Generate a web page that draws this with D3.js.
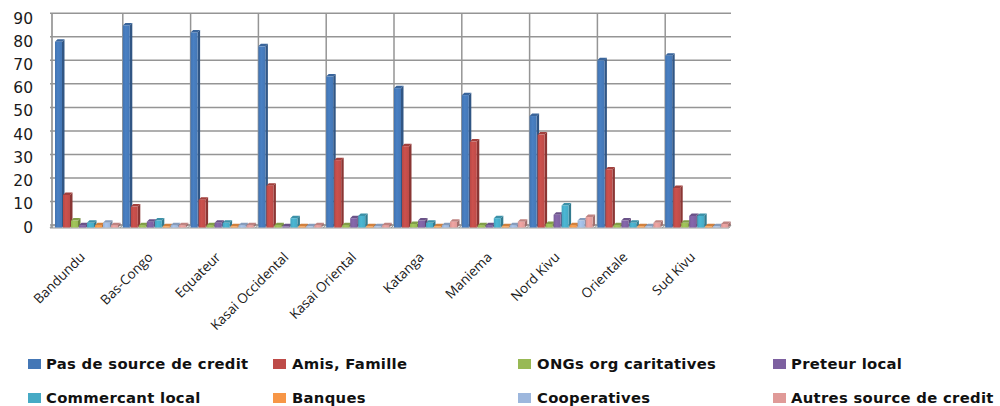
<!DOCTYPE html>
<html>
<head>
<meta charset="utf-8">
<script src="https://cdn.jsdelivr.net/npm/d3@7/dist/d3.min.js"></script>
<style>
  html, body { margin: 0; padding: 0; background: #fff; }
  svg { display: block; }
</style>
</head>
<body>
<script>
// Provinces (categories on the x axis)
const categories = ["Bandundu", "Bas-Congo", "Equateur", "Kasai Occidental", "Kasai Oriental",
                    "Katanga", "Maniema", "Nord Kivu", "Orientale", "Sud Kivu"];

// Credit sources (series)
const seriesNames = ["Pas de source de credit", "Amis, Famille", "ONGs org caritatives", "Preteur local",
                     "Commercant local", "Banques", "Cooperatives", "Autres source de credit"];

// Percentages per province, one array per source
const pasDeSource = [80, 87, 84, 78, 65, 60, 57, 48, 72, 74];
const amisFamille = [14, 9, 12, 18, 29, 35, 37, 40, 25, 17];
const ongs        = [3, 1, 1, 1, 1, 1.5, 1, 1.5, 1, 2];
const preteur     = [1, 2.5, 2, 0.5, 4, 3, 1, 5.5, 3, 5];
const commercant  = [2, 3, 2, 4, 5, 2, 4, 9.5, 2, 5];
const banques     = [1, 0.5, 0.5, 0.5, 0.5, 0.5, 0.5, 1, 0.5, 0.5];
const cooperatives= [2, 1, 1, 0.5, 0.5, 1, 1, 3, 0.5, 0.5];
const autres      = [1, 1, 1, 1, 1, 2.5, 2.5, 4.5, 2, 1.5];

// Value axis ticks
const yTicks = [0, 10, 20, 30, 40, 50, 60, 70, 80, 90];

const seriesColors = ["#4477B6", "#BE4B48", "#98B954", "#7D60A0", "#46AAC5", "#F79646", "#9DB7DD", "#E09A98"];

const seriesValues = [pasDeSource, amisFamille, ongs, preteur, commercant, banques, cooperatives, autres];
const series = seriesNames.map((name, i) => ({ name, values: seriesValues[i], color: seriesColors[i] }));

const W = 1000, H = 406;
const svg = d3.select("body").append("svg").attr("width", W).attr("height", H);
svg.append("rect").attr("width", W).attr("height", H).attr("fill", "#fff");

// Scales: front plane for the bars, back wall for the gridlines
const x0 = d3.scaleBand().domain(categories).range([55, 733]);
const x1 = d3.scaleBand().domain(seriesNames).range([0, 64]);
const yFront = d3.scaleLinear().domain([0, 90]).range([227.5, 18.5]);
const yBack = d3.scaleLinear().domain([0, 90]).range([225, 13.3]);

const wallLeft = 52, wallRight = 731;
const gridColor = "#959595";

// Floor strip
svg.append("polygon")
  .attr("points", [[wallLeft - 2, yFront(0) + 0.5], [wallRight - 2, yFront(0) + 0.5],
                   [wallRight, yBack(0)], [wallLeft, yBack(0)]].map(p => p.join(",")).join(" "))
  .attr("fill", "#e6e6e6").attr("stroke", gridColor).attr("stroke-width", 1);

// Horizontal gridlines on the back wall
svg.append("g").selectAll("line").data(yTicks).join("line")
  .attr("x1", wallLeft - 2).attr("x2", wallRight)
  .attr("y1", d => yBack(d)).attr("y2", d => yBack(d))
  .attr("stroke", gridColor).attr("stroke-width", 1.5);

// Vertical gridlines between categories
svg.append("g").selectAll("line").data(categories.slice(1)).join("line")
  .attr("x1", d => x0(d)).attr("x2", d => x0(d))
  .attr("y1", yBack(90)).attr("y2", yBack(0))
  .attr("stroke", gridColor).attr("stroke-width", 1.5);

// Floor ticks at category boundaries
svg.append("g").selectAll("line").data(categories.slice(1)).join("line")
  .attr("x1", d => x0(d) - 3).attr("x2", d => x0(d))
  .attr("y1", yFront(0) + 0.5).attr("y2", yBack(0))
  .attr("stroke", gridColor).attr("stroke-width", 1);

// Left wall / value axis line
svg.append("line")
  .attr("x1", wallLeft).attr("x2", wallLeft)
  .attr("y1", yBack(90)).attr("y2", yFront(0) + 0.5)
  .attr("stroke", gridColor).attr("stroke-width", 1.7);

// Gradients for the bar fronts
const defs = svg.append("defs");
series.forEach((s, i) => {
  const g = defs.append("linearGradient").attr("id", "grad" + i)
    .attr("x1", "0%").attr("x2", "100%").attr("y1", "0%").attr("y2", "0%");
  const c = d3.color(s.color);
  g.append("stop").attr("offset", "0%").attr("stop-color", c.darker(0.1).formatHex());
  g.append("stop").attr("offset", "40%").attr("stop-color", c.brighter(0.2).formatHex());
  g.append("stop").attr("offset", "100%").attr("stop-color", c.formatHex());
});

// 3D columns
const barW = 7, depth = 2.5;
const groups = svg.append("g").selectAll("g").data(categories).join("g")
  .attr("transform", d => `translate(${x0(d)},0)`);

groups.each(function (cat, ci) {
  const g = d3.select(this);
  series.forEach((s, si) => {
    const v = s.values[ci];
    const x = x1(s.name);
    const yt = yFront(v), yb = yFront(0);
    const c = d3.color(s.color);
    // side face
    g.append("polygon")
      .attr("points", [[x + barW, yt], [x + barW + depth, yt - depth], [x + barW + depth, yb - depth], [x + barW, yb]]
        .map(p => p.join(",")).join(" "))
      .attr("fill", c.darker(0.9).formatHex());
    // top face
    g.append("polygon")
      .attr("points", [[x, yt], [x + depth, yt - depth], [x + barW + depth, yt - depth], [x + barW, yt]]
        .map(p => p.join(",")).join(" "))
      .attr("fill", c.darker(0.45).formatHex());
    // front face
    g.append("rect")
      .attr("x", x).attr("y", yt).attr("width", barW).attr("height", yb - yt)
      .attr("fill", `url(#grad${si})`);
  });
});

// Value axis labels
svg.append("g").selectAll("text").data(yTicks).join("text")
  .attr("x", 33).attr("y", d => yFront(d))
  .attr("text-anchor", "end").attr("dominant-baseline", "central")
  .attr("font-family", "DejaVu Sans, sans-serif").attr("font-size", 15.5)
  .attr("fill", "#1a1a1a")
  .text(d => d);

// Category labels, rotated
svg.append("g").selectAll("text").data(categories).join("text")
  .attr("transform", d => `translate(${x0(d) + x0.bandwidth() / 2 - 3},258) rotate(-45)`)
  .attr("text-anchor", "end")
  .attr("font-family", "Open Sans, sans-serif").attr("font-size", 13.5)
  .attr("fill", "#1a1a1a")
  .text(d => d);

// Legend: two rows of four
const legendCols = [[28, 46], [273, 292], [518, 537], [773, 791]];
const legendRows = [369, 403];
const legend = svg.append("g").selectAll("g").data(series).join("g")
  .attr("transform", (d, i) => `translate(0,${legendRows[Math.floor(i / 4)]})`);
legend.append("rect")
  .attr("x", (d, i) => legendCols[i % 4][0]).attr("y", -10)
  .attr("width", 13).attr("height", 10)
  .attr("fill", d => d.color);
legend.append("text")
  .attr("x", (d, i) => legendCols[i % 4][1]).attr("y", 0)
  .attr("font-family", "DejaVu Sans, sans-serif").attr("font-size", 14.8).attr("font-weight", 700)
  .attr("letter-spacing", 0.3)
  .attr("fill", "#111")
  .text(d => d.name);
</script>
</body>
</html>
